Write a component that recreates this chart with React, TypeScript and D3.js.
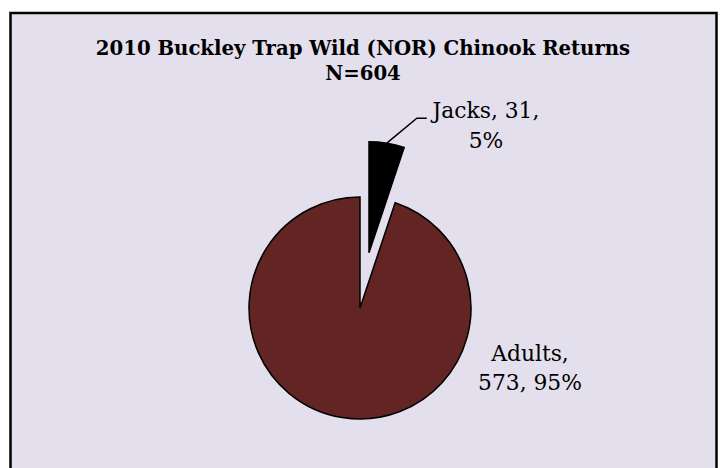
import React from "react";
import * as d3 from "d3";

const categories = ["Jacks", "Adults"];
const counts = [31, 573];
const colors = ["#000000", "#632523"];
const titleLines = ["2010 Buckley Trap Wild (NOR) Chinook Returns", "N=604"];

const W = 724;
const H = 468;

export default function App() {
  const total = d3.sum(counts);
  const data = categories.map((c, i) => ({ name: c, value: counts[i], color: colors[i] }));
  const pie = d3.pie<any>().sort(null).value((d) => d.value).startAngle(0).endAngle(2 * Math.PI);
  const arcs = pie(data);
  const r = 111;
  const cx = 360;
  const cy = 308;
  const arcGen = d3.arc<any>().innerRadius(0).outerRadius(r);
  const explode = [56, 0];
  const font = "'DejaVu Serif', serif";
  const fmtPct = (v: number) => `${Math.round((v / total) * 100)}%`;

  const jacksArc = arcs[0];
  const jm = (jacksArc.startAngle + jacksArc.endAngle) / 2;
  const jOff = [Math.sin(jm) * explode[0], -Math.cos(jm) * explode[0]];
  const jEdge = [cx + jOff[0] + Math.sin(jm) * r, cy + jOff[1] - Math.cos(jm) * r];
  const lead = [jEdge, [jEdge[0] + 30, jEdge[1] - 25], [jEdge[0] + 40, jEdge[1] - 25]];

  return (
    <div style={{ position: "fixed", left: 0, top: 0, width: W, height: H, background: "#fff" }}>
      <svg width={W} height={H} style={{ display: "block" }}>
        <rect x={10.5} y={13} width={706} height={470} fill="#E4DFEC" stroke="#000" strokeWidth={2.5} />
        <text x={363} y={55} textAnchor="middle" style={{ fontFamily: font }} fontWeight="bold" fontSize={19.7} fill="#000">
          {titleLines[0]}
        </text>
        <text x={363} y={80} textAnchor="middle" style={{ fontFamily: font }} fontWeight="bold" fontSize={19.7} fill="#000">
          {titleLines[1]}
        </text>
        {arcs.map((a, i) => {
          const m = (a.startAngle + a.endAngle) / 2;
          const dx = Math.sin(m) * explode[i];
          const dy = -Math.cos(m) * explode[i];
          return (
            <path
              key={i}
              d={arcGen(a) as string}
              transform={`translate(${cx + dx},${cy + dy})`}
              fill={a.data.color}
              stroke="#000"
              strokeWidth={1.5}
              strokeLinejoin="miter"
            />
          );
        })}
        <path d={d3.line()(lead as any) as string} fill="none" stroke="#000" strokeWidth={1.5} />
        <text style={{ fontFamily: font }} fontSize={21.8} fill="#000" textAnchor="middle">
          <tspan x={486} y={118}>{`${categories[0]}, ${counts[0]},`}</tspan>
          <tspan x={486} y={148}>{fmtPct(counts[0])}</tspan>
        </text>
        <text style={{ fontFamily: font }} fontSize={21.8} fill="#000" textAnchor="middle">
          <tspan x={530} y={361}>{`${categories[1]},`}</tspan>
          <tspan x={530} y={390}>{`${counts[1]}, ${fmtPct(counts[1])}`}</tspan>
        </text>
      </svg>
    </div>
  );
}
